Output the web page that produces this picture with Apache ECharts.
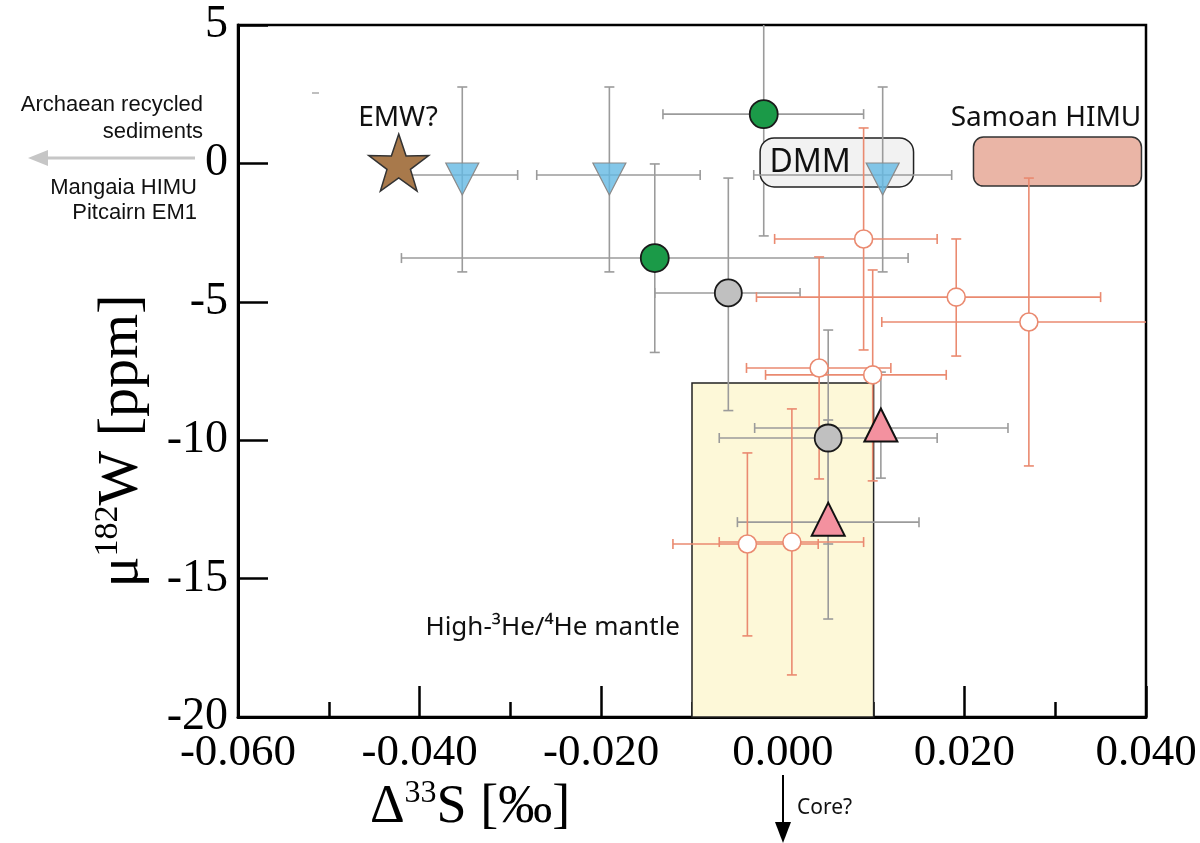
<!DOCTYPE html>
<html>
<head>
<meta charset="utf-8">
<script src="https://cdn.jsdelivr.net/npm/echarts@6/dist/echarts.min.js"></script>
<style>
  html, body { margin: 0; padding: 0; background: #fff; }
  #chart { width: 1200px; height: 843px; }
</style>
</head>
<body>
<div id="chart"></div>
<script>
// each point: [x, y, xMin, xMax, yMin, yMax]
var blueTriangles = [
  [-0.0353, -0.42, -0.0414, -0.0292, -3.92, 2.76],
  [-0.0191, -0.42, -0.0271, -0.0091, -3.92, 2.76],
  [0.0110, -0.42, -0.0032, 0.0186, -3.92, 2.76]
];
var greenCircles = [
  [-0.0021, 1.78, -0.0132, 0.0089, -2.62, 6.2],
  [-0.0141, -3.42, -0.0420, 0.0138, -6.83, -0.02]
];
var grayCircles = [
  [-0.0060, -4.68, -0.0141, 0.0019, -8.93, -0.53],
  [0.0050, -9.92, -0.0070, 0.0170, -13.75, -6.02]
];
var pinkTriangles = [
  [0.0108, -9.56, -0.0031, 0.0248, -11.37, -7.54],
  [0.0050, -12.96, -0.0050, 0.0150, -16.46, -9.27]
];
var openCircles = [
  [0.0089, -2.73, -0.0009, 0.0170, -6.74, 1.28],
  [0.0191, -4.83, -0.0029, 0.0350, -6.96, -2.73],
  [0.0271, -5.73, 0.0109, 0.0440, -10.93, -0.53],
  [0.0040, -7.39, -0.0040, 0.0119, -11.40, -3.38],
  [0.0099, -7.64, -0.0019, 0.0180, -11.47, -3.85],
  [-0.0039, -13.75, -0.0121, 0.0039, -17.07, -10.46],
  [0.0010, -13.68, -0.0070, 0.0089, -18.48, -8.87]
];
var emwStar = [[-0.0423, 0.03]];

// regions: [xMin, xMax, yMin, yMax]
var dmmBox = [-0.0025, 0.0144, -0.85, 0.92];
var samoanBox = [0.0210, 0.0395, -0.82, 0.95];
var highHeBox = [-0.010, 0.010, -20, -7.93];

var xRange = [-0.06, 0.04];
var yRange = [-20, 5];

var grayBar = '#9b9b9b';
var salmonBar = '#ea8a70';
var serif = 'Liberation Serif';
var sans = 'Noto Sans';

function errorBars(color) {
  return function (params, api) {
    var cs = params.coordSys;
    var L = cs.x, R = cs.x + cs.width, T = cs.y, B = cs.y + cs.height;
    var c = api.coord([api.value(0), api.value(1)]);
    var x0 = api.coord([api.value(2), api.value(1)])[0];
    var x1 = api.coord([api.value(3), api.value(1)])[0];
    var yLow = api.coord([api.value(0), api.value(4)])[1];
    var yHigh = api.coord([api.value(0), api.value(5)])[1];
    var style = { stroke: color, lineWidth: 1.6 };
    var cap = 5;
    var kids = [];
    function seg(a, b, e, d) {
      kids.push({ type: 'line', shape: { x1: a, y1: b, x2: e, y2: d }, style: style });
    }
    seg(Math.max(x0, L), c[1], Math.min(x1, R), c[1]);
    seg(c[0], Math.max(yHigh, T), c[0], Math.min(yLow, B));
    if (x0 >= L) seg(x0, c[1] - cap, x0, c[1] + cap);
    if (x1 <= R) seg(x1, c[1] - cap, x1, c[1] + cap);
    if (yHigh >= T) seg(c[0] - cap, yHigh, c[0] + cap, yHigh);
    if (yLow <= B) seg(c[0] - cap, yLow, c[0] + cap, yLow);
    return { type: 'group', children: kids };
  };
}

function barSeries(data, color, z) {
  return {
    type: 'custom',
    z: z,
    silent: true,
    renderItem: errorBars(color),
    encode: { x: [0, 2, 3], y: [1, 4, 5] },
    data: data
  };
}

function regionSeries(box, fill, stroke, radius, label, z) {
  return {
    type: 'custom',
    z: z,
    silent: true,
    renderItem: function (params, api) {
      var p0 = api.coord([box[0], box[3]]);
      var p1 = api.coord([box[1], box[2]]);
      var kids = [{
        type: 'rect',
        shape: { x: p0[0], y: p0[1], width: p1[0] - p0[0], height: p1[1] - p0[1], r: radius },
        style: { fill: fill, stroke: stroke, lineWidth: 1.5 }
      }];
      if (label) {
        kids.push({
          type: 'text',
          style: {
            text: label, x: p0[0] + 50, y: (p0[1] + p1[1]) / 2,
            align: 'center', verticalAlign: 'middle',
            font: '32px "' + sans + '"', fill: '#111'
          }
        });
      }
      return { type: 'group', children: kids };
    },
    data: [box]
  };
}

function points(data) {
  return data.map(function (p) { return [p[0], p[1]]; });
}

var chart = echarts.init(document.getElementById('chart'));
chart.setOption({
  animation: false,
  grid: {
    left: 238, top: 25, right: 54, bottom: 126,
    show: true, borderColor: '#000', borderWidth: 2.5
  },
  xAxis: {
    type: 'value',
    min: xRange[0], max: xRange[1], interval: 0.02,
    axisLine: { show: true, onZero: false, lineStyle: { color: '#000', width: 3 } },
    axisTick: { show: true, inside: true, length: 31, lineStyle: { color: '#000', width: 2.5 } },
    minorTick: { show: true, splitNumber: 2, length: 15, lineStyle: { color: '#000', width: 2.5 } },
    splitLine: { show: false },
    axisLabel: {
      formatter: function (v) { return v.toFixed(3); },
      fontFamily: serif, fontSize: 45, color: '#000', margin: 14
    }
  },
  yAxis: {
    type: 'value',
    min: yRange[0], max: yRange[1], interval: 5,
    axisLine: { show: true, onZero: false, lineStyle: { color: '#000', width: 3 } },
    axisTick: { show: true, inside: true, length: 30, lineStyle: { color: '#000', width: 2.5 } },
    splitLine: { show: false },
    axisLabel: { fontFamily: serif, fontSize: 46, color: '#000', margin: 10 }
  },
  graphic: [
    {
      type: 'text', x: 470, y: 808, z: 100,
      style: {
        text: '{m|Δ}{s|33}{m|S [‰]}',
        align: 'center', verticalAlign: 'middle',
        rich: {
          m: { fontFamily: serif, fontSize: 54, fill: '#000', lineHeight: 60 },
          s: { fontFamily: serif, fontSize: 32, fill: '#000', lineHeight: 60, verticalAlign: 'top' }
        }
      }
    },
    {
      type: 'text', x: 122, y: 441, rotation: Math.PI / 2, z: 100,
      style: {
        text: '{m|μ}{s|182}{m|W [ppm]}',
        align: 'center', verticalAlign: 'middle',
        rich: {
          m: { fontFamily: serif, fontSize: 58, fill: '#000', lineHeight: 62 },
          s: { fontFamily: serif, fontSize: 34, fill: '#000', lineHeight: 62, verticalAlign: 'top' }
        }
      }
    },
    {
      type: 'text', x: 203, y: 118,
      style: {
        text: 'Archaean recycled\nsediments', align: 'right', verticalAlign: 'middle',
        font: '22px "Liberation Sans"', lineHeight: 27, fill: '#111'
      }
    },
    {
      type: 'text', x: 197, y: 200,
      style: {
        text: 'Mangaia HIMU\nPitcairn EM1', align: 'right', verticalAlign: 'middle',
        font: '22px "Liberation Sans"', lineHeight: 25, fill: '#111'
      }
    },
    { type: 'line', shape: { x1: 195, y1: 158, x2: 44, y2: 158 }, style: { stroke: '#c6c6c6', lineWidth: 3 } },
    { type: 'polygon', shape: { points: [[28, 158], [48, 150], [48, 166]] }, style: { fill: '#c6c6c6' } },
    { type: 'line', shape: { x1: 312, y1: 93, x2: 319, y2: 93 }, style: { stroke: '#aaa', lineWidth: 1.5 } },
    {
      type: 'text', x: 398, y: 118,
      style: { text: 'EMW?', align: 'center', verticalAlign: 'middle', font: '28px "Noto Sans"', fill: '#111' }
    },
    {
      type: 'text', x: 1046, y: 118,
      style: { text: 'Samoan HIMU', align: 'center', verticalAlign: 'middle', font: '28px "Noto Sans"', fill: '#111' }
    },
    {
      type: 'text', x: 680, y: 628,
      style: { text: 'High-³He/⁴He mantle', align: 'right', verticalAlign: 'middle', font: '26px "Noto Sans"', fill: '#111' }
    },
    { type: 'line', shape: { x1: 783, y1: 775, x2: 783, y2: 826 }, style: { stroke: '#000', lineWidth: 2 } },
    { type: 'polygon', shape: { points: [[775, 822], [791, 822], [783, 843]] }, style: { fill: '#000' } },
    {
      type: 'text', x: 797, y: 808,
      style: { text: 'Core?', align: 'left', verticalAlign: 'middle', font: '21px "Noto Sans"', fill: '#111' }
    }
  ],
  series: [
    barSeries(greenCircles, grayBar, 1),
    regionSeries(highHeBox, '#fdf8d8', '#222', 0, null, 2),
    regionSeries(dmmBox, '#f2f2f2', '#222', 14, 'DMM', 2),
    regionSeries(samoanBox, '#eab5a6', '#333', 10, null, 2),
    barSeries(blueTriangles, grayBar, 3),
    barSeries(grayCircles, grayBar, 3),
    barSeries(pinkTriangles, grayBar, 3),
    barSeries(openCircles, salmonBar, 3),
    {
      type: 'scatter', z: 5, silent: true,
      symbol: 'triangle', symbolSize: [33, 32], symbolRotate: 180, symbolOffset: [0, 4],
      itemStyle: { color: 'rgba(100,185,228,0.8)', borderColor: '#8a8a8a', borderWidth: 1.2, opacity: 1 },
      data: points(blueTriangles)
    },
    {
      type: 'scatter', z: 5, silent: true,
      symbol: 'circle', symbolSize: 28,
      itemStyle: { color: '#1b9a48', borderColor: '#1a1a1a', borderWidth: 1.8, opacity: 1 },
      data: points(greenCircles)
    },
    {
      type: 'scatter', z: 5, silent: true,
      symbol: 'circle', symbolSize: 27,
      itemStyle: { color: '#c0c0c0', borderColor: '#1a1a1a', borderWidth: 1.8, opacity: 1 },
      data: points(grayCircles)
    },
    {
      type: 'scatter', z: 5, silent: true,
      symbol: 'triangle', symbolSize: [33, 33], symbolOffset: [0, -3],
      itemStyle: { color: '#f3919f', borderColor: '#111', borderWidth: 2, opacity: 1 },
      data: points(pinkTriangles)
    },
    {
      type: 'scatter', z: 5, silent: true,
      symbol: 'circle', symbolSize: 18,
      itemStyle: { color: '#fff', borderColor: salmonBar, borderWidth: 1.6, opacity: 1 },
      data: points(openCircles)
    },
    {
      type: 'scatter', z: 5, silent: true,
      symbol: 'path://M50,0 L61.8,35.1 L98.1,34.5 L68.8,56.6 L79.4,91.5 L50,70.2 L20.6,91.5 L31.2,56.6 L1.9,34.5 L38.2,35.1 Z',
      symbolSize: [60, 57],
      itemStyle: { color: '#a8794b', borderColor: '#333', borderWidth: 1.5, opacity: 1 },
      data: emwStar
    }
  ]
});
</script>
</body>
</html>
